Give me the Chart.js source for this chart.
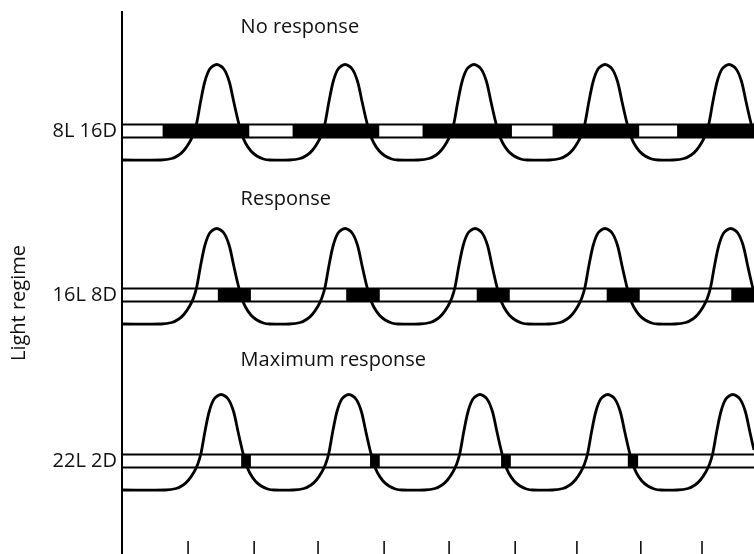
<!DOCTYPE html>
<html>
<head>
<meta charset="utf-8">
<script src="https://cdn.jsdelivr.net/npm/chart.js@4.4.1/dist/chart.umd.min.js"></script>
<style>
  html, body { margin: 0; padding: 0; background: #ffffff; }
  #wrap { width: 754px; height: 554px; }
</style>
</head>
<body>
<div id="wrap"><canvas id="c" width="754" height="554"></canvas></div>
<script>
// ---------- data (hours on x, arbitrary vertical units on y) ----------
const regimes   = ['8L 16D', '16L 8D', '22L 2D'];
const responses = ['No response', 'Response', 'Maximum response'];
const rowLevels = [423, 259, 93];            // vertical level of each light/dark bar
const barHalfHeight = 6.5;
const hourMax = 116.7;

// dark periods (hours) of each regime's light/dark bar
const darkPeriods = [
  [[7.5, 23.5], [31.5, 47.5], [55.5, 72.0], [79.5, 95.5], [102.5, 116.7]],
  [[17.7, 23.8], [41.4, 47.6], [65.5, 71.6], [89.5, 95.6], [112.5, 116.7]],
  [[22.0, 23.8], [45.8, 47.6], [70.0, 71.8], [93.4, 95.3]]
];

// hour of each peak of the rhythm, per regime
const peakHours = [
  [17.5, 41.2, 65.0, 89.2, 112.1],
  [17.5, 41.2, 65.2, 89.2, 112.4],
  [18.3, 41.9, 66.1, 89.7, 112.8]
];

// measured shape of one cycle of the rhythm around its peak
const waveHour  = [-10.3, -8.3, -7.0, -6.0, -5.0, -4.3, -3.7, -3.0, -2.2, -1.3, 0, 1.3, 2.3, 3.1, 3.9, 4.6, 5.3, 6.3, 7.4, 8.6, 9.8];
const waveLevel = [-29, -27.5, -24, -19, -11, -3, 8, 29, 49.5, 62, 66.5, 62, 49.5, 30, 11, -3, -12, -20, -25, -28, -29];

// bottom axis tick positions (hours)
const tickHours = [12.2, 24.4, 36.2, 48.4, 60.4, 72.6, 84.0, 95.8, 107.1];
const tickLength = 13;

// ---------- build datasets ----------
const datasets = [];
regimes.forEach((name, r) => {
  const lvl = rowLevels[r];
  // outline of the light/dark bar
  [lvl + barHalfHeight, lvl - barHalfHeight].forEach(y => {
    datasets.push({ data: [{x: 0, y}, {x: hourMax, y}], borderColor: '#000', borderWidth: 2 });
  });
  // dark segments
  const dk = [];
  darkPeriods[r].forEach(([s, e]) => { dk.push({x: s, y: lvl}, {x: e, y: lvl}, {x: e, y: null}); });
  datasets.push({ data: dk, borderColor: '#000', borderWidth: barHalfHeight * 2, borderCapStyle: 'butt', spanGaps: false });
  // rhythm curve
  const pts = [{x: 0, y: lvl + waveLevel[0]}];
  peakHours[r].forEach(p => waveHour.forEach((h, i) => pts.push({x: p + h, y: lvl + waveLevel[i]})));
  datasets.push({ data: pts, borderColor: '#000', borderWidth: 2.8, tension: 0.3 });
});
const tk = [];
tickHours.forEach(h => tk.push({x: h, y: 0}, {x: h, y: tickLength}, {x: h, y: null}));
datasets.push({ data: tk, borderColor: '#000', borderWidth: 1.5, spanGaps: false });

datasets.forEach(d => { d.showLine = true; d.pointRadius = 0; d.fill = false; });

const FONT = "'Open Sans', 'DejaVu Sans', sans-serif";

const textPlugin = {
  id: 'texts',
  afterDraw(chart) {
    const {ctx, scales: {x, y}, chartArea} = chart;
    ctx.save();
    ctx.fillStyle = '#111';
    ctx.font = '20px ' + FONT;
    ctx.textAlign = 'left';
    ctx.textBaseline = 'alphabetic';
    const labelLevels = [521, 349, 188];
    responses.forEach((t, i) => {
      ctx.fillText(t, x.getPixelForValue(21.9), y.getPixelForValue(labelLevels[i]));
    });
    // vertical axis title
    ctx.translate(chartArea.left - 103, y.getPixelForValue(251));
    ctx.rotate(-Math.PI / 2);
    ctx.textAlign = 'center';
    ctx.textBaseline = 'middle';
    ctx.fillText('Light regime', 0, 0);
    ctx.restore();
  }
};

new Chart(document.getElementById('c'), {
  type: 'scatter',
  data: { datasets },
  options: {
    responsive: false,
    animation: false,
    devicePixelRatio: 1,
    layout: { padding: { top: 12, right: 0, bottom: 0, left: 0 } },
    plugins: { legend: { display: false }, tooltip: { enabled: false } },
    scales: {
      x: { type: 'linear', min: 0, max: hourMax, display: false },
      y: {
        type: 'linear', min: 0, max: 542,
        afterFit(s) { s.width = 122; s.paddingTop = 0; s.paddingBottom = 0; },
        afterBuildTicks(s) { s.ticks = rowLevels.map(v => ({ value: v })); },
        ticks: {
          autoSkip: false, padding: 5, color: '#111',
          font: { family: FONT, size: 20 },
          callback(v) { const i = rowLevels.indexOf(v); return i >= 0 ? regimes[i] : ''; }
        },
        grid: { display: true, drawOnChartArea: false, drawTicks: false },
        border: { display: true, color: '#000', width: 2 }
      }
    }
  },
  plugins: [textPlugin]
});
</script>
</body>
</html>
